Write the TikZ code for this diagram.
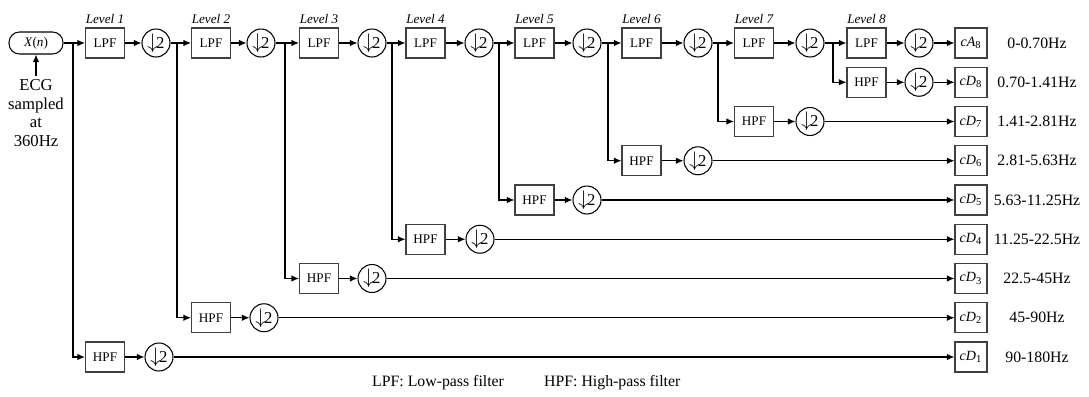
\documentclass[tikz,border=0pt]{standalone}
\usepackage{fontspec}
\setmainfont{Liberation Serif}
\usepackage{tikz}
\usetikzlibrary{arrows.meta,positioning}
\newcommand{\halve}{{\fontsize{11.5}{12}\selectfont$\downarrow$}\hspace{-1pt}2}

\begin{document}
\begin{tikzpicture}[
  x=0.02cm,y=-0.02cm,
  filt/.style={draw=black!75,line width=0.6pt,minimum width=0.78cm,minimum height=0.6cm,
            inner sep=0pt,font=\fontsize{7.5}{9}\selectfont},
  dn/.style={circle,draw,line width=0.6pt,minimum size=0.56cm,inner sep=0pt,
            font=\fontsize{9.5}{10}\selectfont},
  coef/.style={draw=black!75,line width=0.6pt,minimum width=0.64cm,minimum height=0.6cm,
            inner sep=0pt,font=\fontsize{8}{9}\selectfont\itshape},
  lev/.style={font=\fontsize{7.5}{9}\selectfont\itshape,inner sep=1pt},
  band/.style={font=\fontsize{9}{11}\selectfont},
  arr/.style={-{Latex[length=1.5mm,width=1.3mm]},line width=0.7pt}
]
\useasboundingbox (0,0) rectangle (1089,396);

% input
\node[draw,line width=0.6pt,rounded corners=0.21cm,minimum width=1.08cm,minimum height=0.44cm,
      inner sep=0pt,font=\fontsize{7.5}{9}\selectfont] (x) at (36,43) {\textit{X}(\textit{n})};
\node[align=center,font=\fontsize{9.5}{10.5}\selectfont,inner sep=2pt] (ecg) at (36,113)
      {ECG\\sampled\\at\\360Hz};
\draw[arr] (ecg) -- (x);

% approximation path
\node[filt] (lpf1) at (105,43) {LPF};
\node[dn] (dn1) at (156,43) {\halve};
\node[filt] (lpf2) at (211,43) {LPF};
\node[dn] (dn2) at (261,43) {\halve};
\node[filt] (lpf3) at (319,43) {LPF};
\node[dn] (dn3) at (372,43) {\halve};
\node[filt] (lpf4) at (425.5,43) {LPF};
\node[dn] (dn4) at (479,43) {\halve};
\node[filt] (lpf5) at (534.5,43) {LPF};
\node[dn] (dn5) at (587,43) {\halve};
\node[filt] (lpf6) at (641.5,43) {LPF};
\node[dn] (dn6) at (698,43) {\halve};
\node[filt] (lpf7) at (754,43) {LPF};
\node[dn] (dn7) at (810,43) {\halve};
\node[filt] (lpf8) at (866.5,43) {LPF};
\node[dn] (dn8) at (919,43) {\halve};
\node[coef] (ca8) at (971,43) {cA\textsubscript{\upshape 8}};

\node[lev,above=1pt of lpf1] (lev1) {Level 1};
\node[lev,above=1pt of lpf2] (lev2) {Level 2};
\node[lev,above=1pt of lpf3] (lev3) {Level 3};
\node[lev,above=1pt of lpf4] (lev4) {Level 4};
\node[lev,above=1pt of lpf5] (lev5) {Level 5};
\node[lev,above=1pt of lpf6] (lev6) {Level 6};
\node[lev,above=1pt of lpf7] (lev7) {Level 7};
\node[lev,above=1pt of lpf8] (lev8) {Level 8};

% detail path
\node[filt] (hpf1) at (105,357) {HPF};
\node[dn] (hdn1) at (159,357) {\halve};
\node[filt] (hpf2) at (211,317.75) {HPF};
\node[dn] (hdn2) at (264,317.75) {\halve};
\node[filt] (hpf3) at (319,278.5) {HPF};
\node[dn] (hdn3) at (372,278.5) {\halve};
\node[filt] (hpf4) at (425.5,239.25) {HPF};
\node[dn] (hdn4) at (480,239.25) {\halve};
\node[filt] (hpf5) at (534.5,200) {HPF};
\node[dn] (hdn5) at (587,200) {\halve};
\node[filt] (hpf6) at (641.5,160.75) {HPF};
\node[dn] (hdn6) at (698,160.75) {\halve};
\node[filt] (hpf7) at (754,121.5) {HPF};
\node[dn] (hdn7) at (810,121.5) {\halve};
\node[filt] (hpf8) at (866.5,82.25) {HPF};
\node[dn] (hdn8) at (919,82.25) {\halve};

\node[coef] (cd8) at (971,82.25) {cD\textsubscript{\upshape 8}};
\node[coef] (cd7) at (971,121.5) {cD\textsubscript{\upshape 7}};
\node[coef] (cd6) at (971,160.75) {cD\textsubscript{\upshape 6}};
\node[coef] (cd5) at (971,200) {cD\textsubscript{\upshape 5}};
\node[coef] (cd4) at (971,239.25) {cD\textsubscript{\upshape 4}};
\node[coef] (cd3) at (971,278.5) {cD\textsubscript{\upshape 3}};
\node[coef] (cd2) at (971,317.75) {cD\textsubscript{\upshape 2}};
\node[coef] (cd1) at (971,357) {cD\textsubscript{\upshape 1}};

% frequency bands
\node[band] (fa8) at (1037,43) {0-0.70Hz};
\node[band] (fd8) at (1037,82.25) {0.70-1.41Hz};
\node[band] (fd7) at (1037,121.5) {1.41-2.81Hz};
\node[band] (fd6) at (1037,160.75) {2.81-5.63Hz};
\node[band] (fd5) at (1037,200) {5.63-11.25Hz};
\node[band] (fd4) at (1037,239.25) {11.25-22.5Hz};
\node[band] (fd3) at (1037,278.5) {22.5-45Hz};
\node[band] (fd2) at (1037,317.75) {45-90Hz};
\node[band] (fd1) at (1037,357) {90-180Hz};

% branch points
\coordinate (b0) at (73,43);
\coordinate (b1) at (177,43);
\coordinate (b2) at (285,43);
\coordinate (b3) at (392,43);
\coordinate (b4) at (499,43);
\coordinate (b5) at (608,43);
\coordinate (b6) at (718,43);
\coordinate (b7) at (833,43);

\draw[arr] (x) -- (lpf1);
\draw[arr] (lpf1) -- (dn1);
\draw[arr] (dn1) -- (lpf2);
\draw[arr] (lpf2) -- (dn2);
\draw[arr] (dn2) -- (lpf3);
\draw[arr] (lpf3) -- (dn3);
\draw[arr] (dn3) -- (lpf4);
\draw[arr] (lpf4) -- (dn4);
\draw[arr] (dn4) -- (lpf5);
\draw[arr] (lpf5) -- (dn5);
\draw[arr] (dn5) -- (lpf6);
\draw[arr] (lpf6) -- (dn6);
\draw[arr] (dn6) -- (lpf7);
\draw[arr] (lpf7) -- (dn7);
\draw[arr] (dn7) -- (lpf8);
\draw[arr] (lpf8) -- (dn8);
\draw[arr] (dn8) -- (ca8);

\draw[arr] (b0) |- (hpf1);
\draw[arr] (b1) |- (hpf2);
\draw[arr] (b2) |- (hpf3);
\draw[arr] (b3) |- (hpf4);
\draw[arr] (b4) |- (hpf5);
\draw[arr] (b5) |- (hpf6);
\draw[arr] (b6) |- (hpf7);
\draw[arr] (b7) |- (hpf8);

\draw[arr] (hpf1) -- (hdn1);
\draw[arr] (hdn1) -- (cd1);
\draw[arr] (hpf2) -- (hdn2);
\draw[arr] (hdn2) -- (cd2);
\draw[arr] (hpf3) -- (hdn3);
\draw[arr] (hdn3) -- (cd3);
\draw[arr] (hpf4) -- (hdn4);
\draw[arr] (hdn4) -- (cd4);
\draw[arr] (hpf5) -- (hdn5);
\draw[arr] (hdn5) -- (cd5);
\draw[arr] (hpf6) -- (hdn6);
\draw[arr] (hdn6) -- (cd6);
\draw[arr] (hpf7) -- (hdn7);
\draw[arr] (hdn7) -- (cd7);
\draw[arr] (hpf8) -- (hdn8);
\draw[arr] (hdn8) -- (cd8);

% legend
\node[band,anchor=west] (keyl) at (366,383) {LPF: Low-pass filter};
\node[band,anchor=west] (keyh) at (538,383) {HPF: High-pass filter};
\end{tikzpicture}
\end{document}
